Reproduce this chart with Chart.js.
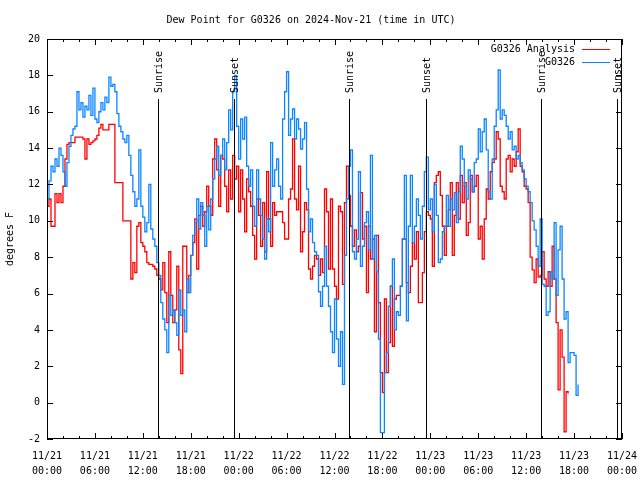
<!DOCTYPE html>
<html>
<head>
<meta charset="utf-8">
<script src="https://cdn.jsdelivr.net/npm/chart.js@4"></script>
<style>
  html, body { margin: 0; padding: 0; background: #fff; }
  canvas { display: block; }
</style>
</head>
<body>
<canvas id="dewChart" width="640" height="480"></canvas>
<script>
// hours since 11/21 00:00 UTC, both series sampled every 15 min
const sampleStep = 0.25

// G0326 Analysis (red), degrees F
const analysisDew = [
  10.8, 11.2, 9.7, 9.7, 11.5, 11.0, 11.5, 11.0, 11.9, 13.4, 14.2, 14.3, 14.3, 14.3, 14.6, 14.6, 14.6, 14.6, 14.5, 13.4, 14.5, 14.2, 14.3, 14.4, 14.5, 14.7, 15.1, 15.3, 15.0, 15.0, 15.0, 15.3, 15.3, 15.3, 12.1, 12.1, 12.1, 12.1, 10.0, 10.0, 10.0, 10.0,
  6.8, 7.7, 7.15, 9.7, 9.9, 8.8, 8.6, 8.3, 7.7, 7.6, 7.6, 7.5, 7.35, 7.0, 6.8, 6.2, 7.7, 6.05, 4.4, 8.3, 5.9, 4.4, 5.1, 7.5, 2.9, 1.6, 8.6, 8.6, 6.05, 7.0, 8.1, 8.8, 10.1, 7.35, 10.3, 10.8, 9.7, 10.5,
  11.9, 10.8, 10.3, 13.4, 14.5, 12.8, 10.8, 13.6, 13.4, 11.9, 10.5, 12.8, 11.2, 13.6, 12.3, 13.0, 10.5, 12.8, 11.2, 9.4, 12.3, 11.6, 10.8, 9.2, 7.9, 11.2, 10.3, 8.6, 11.0, 8.3, 12.7, 10.1, 8.6, 11.0, 10.3, 10.5, 10.5, 10.5, 9.9, 9.0, 9.0, 11.2,
  11.75, 14.5, 11.2, 10.6, 13.0, 8.3, 9.4, 11.0, 10.6, 7.35, 6.8, 7.5, 8.1, 7.9, 7.0, 7.9, 7.15, 11.75, 10.5, 7.35, 11.2, 7.35, 6.4, 5.7, 10.8, 10.5, 6.5, 11.0, 13.0, 11.4, 9.7, 8.6, 9.5, 8.3, 8.6, 11.55, 9.0, 9.7, 6.05, 9.7, 7.9, 9.0, 3.9, 9.2, 5.5,
  1.65, 0.55, 5.7, 1.65, 3.3, 6.4, 3.1, 5.7, 5.9, 5.9, 6.4, 9.0, 9.0, 6.6, 6.05, 7.5, 8.8, 7.9, 9.4, 5.5, 5.5, 7.15, 9.4, 10.5, 10.3, 10.1, 7.5, 12.1, 12.5, 12.7, 11.4, 9.7, 8.1, 9.7, 10.6, 12.1, 8.1, 10.3,
  12.1, 10.1, 12.5, 11.0, 12.1, 9.2, 9.9, 12.5, 11.6, 11.9, 12.5, 9.0, 9.7, 7.9, 10.1, 11.75, 11.2, 12.7, 13.2, 13.4, 14.9, 14.5, 11.9, 11.6, 11.2, 13.4, 13.6, 12.7, 13.4, 13.0, 13.8, 15.05, 13.0, 12.7, 11.9, 11.75, 11.0,
  8.0, 7.3, 6.6, 7.9, 6.9, 7.0, 8.3, 6.8, 6.4, 7.2, 6.4, 8.6, 6.8, 4.4, 0.7, 4.0, 2.5, -1.6, 0.6, 0.5
]

// G0326 station obs (blue), degrees F
const stationDew = [
  11.2, 12.2, 13.0, 12.7, 13.4, 13.0, 14.0, 13.6, 12.7, 11.9, 13.2, 14.1, 14.7, 15.05, 15.2, 17.1, 16.1, 16.5, 15.7, 16.3, 16.1, 16.9, 15.8, 17.3, 15.6, 15.4, 16.0, 16.5, 16.1, 16.8, 16.5, 17.9, 17.4, 17.5, 17.1, 15.9, 15.2, 14.9, 14.5, 14.3, 14.7, 13.6, 12.5, 11.6, 10.8,
  11.2, 13.9, 10.8, 10.2, 9.4, 9.9, 12.0, 9.55, 9.0, 8.6, 7.7, 7.0, 5.5, 4.6, 4.0, 2.75, 5.9, 4.8, 5.1, 4.4, 3.7, 6.2, 4.8, 5.1, 3.9, 6.8, 6.05, 8.1, 9.2, 9.9, 11.2, 9.55, 11.0, 10.3, 8.6,
  10.8, 9.5, 11.2, 12.3, 13.4, 14.1, 12.5, 13.6, 14.5, 12.8, 14.3, 16.1, 15.0, 17.1, 18.0, 15.2, 13.4, 15.6, 14.5, 15.7, 13.0, 11.9, 12.8, 10.8, 9.7, 12.8, 11.2, 10.3, 9.0, 7.9, 10.1, 9.4, 14.3, 11.9, 12.8, 13.4, 11.9, 11.2, 15.6, 17.1, 18.2,
  14.7, 15.6, 16.15, 14.5, 15.6, 15.05, 13.95, 14.5, 15.4, 11.75, 9.4, 10.1, 8.8, 8.3, 8.1, 6.1, 5.3, 6.4, 8.6, 6.4, 5.3, 3.9, 2.75, 5.7, 3.5, 2.0, 3.9, 1.0, 8.1, 11.2, 13.0, 13.9, 8.3, 7.9, 9.0, 12.7, 7.5, 8.6, 9.9, 10.5, 8.4, 13.6, 7.9, 9.2, 7.2, 3.5,
  -1.65, -1.65, 1.65, 2.75, 5.3, 6.4, 7.9, 4.0, 5.0, 4.8, 6.4, 9.0, 12.5, 4.5, 9.7, 12.5, 8.8, 9.7, 11.2, 10.3, 9.0, 10.8, 12.7, 13.5, 10.6, 11.2, 9.4, 12.0, 10.3, 7.7, 7.9, 9.4, 9.7, 11.4, 9.7, 11.2, 10.6, 11.55,
  9.9, 11.6, 14.1, 13.4, 11.9, 11.2, 12.8, 12.3, 11.6, 13.2, 13.4, 15.05, 13.8, 14.9, 15.6, 13.9, 11.6, 11.2, 13.4, 15.2, 16.1, 18.3, 15.6, 16.1, 15.8, 15.2, 14.5, 14.9, 13.9, 14.1, 13.4, 13.6, 13.2, 12.8, 12.3, 11.9, 11.6,
  11.0, 10.0, 9.5, 8.6, 7.5, 10.1, 6.5, 6.4, 4.8, 5.0, 7.2, 6.8, 9.9, 5.9, 8.4, 9.7, 6.8, 4.6, 5.0, 2.2, 2.75, 2.75, 2.6, 0.4, 1.0
]

// sun events, hours since 11/21 00:00
const sunHours = [13.92, 23.42, 37.8, 47.46, 61.83, 71.4]
const sunNames = ['Sunrise', 'Sunset', 'Sunrise', 'Sunset', 'Sunrise', 'Sunset']

// x tick labels every 6 hours
const tickDays = ['11/21', '11/21', '11/21', '11/21', '11/22', '11/22', '11/22', '11/22', '11/23', '11/23', '11/23', '11/23', '11/24']
const tickTimes = ['00:00', '06:00', '12:00', '18:00', '00:00', '06:00', '12:00', '18:00', '00:00', '06:00', '12:00', '18:00', '00:00']

const mono = "'DejaVu Sans Mono', 'Liberation Mono', monospace"

function toPoints(values) {
  return values.map((v, i) => ({x: i * sampleStep, y: v}))
}

// border, inward tics, sun markers and the gnuplot-style key
const gnuplotBits = {
  id: 'gnuplotBits',
  afterDatasetsDraw(chart) {
    const ctx = chart.ctx
    const a = chart.chartArea
    const x = chart.scales.x
    const y = chart.scales.y
    ctx.save()
    ctx.strokeStyle = '#000'
    ctx.fillStyle = '#000'
    ctx.lineWidth = 1
    ctx.font = '10px ' + mono

    sunHours.forEach((h, i) => {
      var px = Math.round(x.getPixelForValue(h)) + 0.5
      ctx.beginPath()
      ctx.moveTo(px, a.top + 60)
      ctx.lineTo(px, a.bottom)
      ctx.stroke()
      ctx.save()
      ctx.translate(px + 1, a.top + 54)
      ctx.rotate(-Math.PI / 2)
      ctx.textAlign = 'left'
      ctx.textBaseline = 'middle'
      ctx.fillText(sunNames[i], 0, 0)
      ctx.restore()
    })

    ctx.strokeRect(a.left + 0.5, a.top + 0.5, a.width - 1, a.height - 1)

    ctx.beginPath()
    x.ticks.forEach(t => {
      var px = Math.round(x.getPixelForValue(t.value)) + 0.5
      var len = t.value % 6 === 0 ? 6 : 3
      ctx.moveTo(px, a.bottom); ctx.lineTo(px, a.bottom - len)
      ctx.moveTo(px, a.top); ctx.lineTo(px, a.top + len)
    })
    y.ticks.forEach(t => {
      var py = Math.round(y.getPixelForValue(t.value)) + 0.5
      ctx.moveTo(a.left, py); ctx.lineTo(a.left + 6, py)
      ctx.moveTo(a.right, py); ctx.lineTo(a.right - 6, py)
    })
    ctx.stroke()

    chart.data.datasets.forEach((ds, i) => {
      var ly = a.top + 10.5 + i * 13
      ctx.fillStyle = '#000'
      ctx.textAlign = 'right'
      ctx.textBaseline = 'middle'
      ctx.fillText(ds.label, a.right - 47, ly)
      ctx.strokeStyle = ds.borderColor
      ctx.beginPath()
      ctx.moveTo(a.right - 40, ly)
      ctx.lineTo(a.right - 12, ly)
      ctx.stroke()
    })
    ctx.restore()
  }
}

Chart.defaults.font.family = mono
Chart.defaults.font.size = 10
Chart.defaults.color = '#000'

var config = {
  type: 'line',
  data: {
    datasets: [
      {
        label: 'G0326 Analysis',
        data: toPoints(analysisDew),
        borderColor: '#ff0000',
        borderWidth: 1.3,
        stepped: true,
        pointRadius: 0,
        order: 1
      },
      {
        label: 'G0326',
        data: toPoints(stationDew),
        borderColor: '#0a86ff',
        borderWidth: 1.3,
        stepped: true,
        pointRadius: 0,
        order: 0
      }
    ]
  },
  options: {
    responsive: false,
    animation: false,
    layout: {
      padding: {top: 0, right: 18, bottom: 0, left: 0}
    },
    plugins: {
      legend: {display: false},
      tooltip: {enabled: false},
      title: {
        display: true,
        text: 'Dew Point for G0326 on 2024-Nov-21 (time in UTC)',
        font: {family: mono, size: 10, weight: 'normal', lineHeight: 1.2},
        color: '#000',
        padding: {top: 14, bottom: 13}
      }
    },
    scales: {
      x: {
        type: 'linear',
        min: 0,
        max: 72,
        border: {display: false},
        grid: {display: false, drawTicks: false},
        ticks: {
          stepSize: 2,
          autoSkip: false,
          maxRotation: 0,
          padding: 10,
          font: {family: mono, size: 10, lineHeight: 1.5},
          callback: value => value % 6 === 0 ? [tickDays[value / 6], tickTimes[value / 6]] : ''
        },
        afterFit: scale => {
          scale.height = 41
          // end labels may hang past the frame, like gnuplot
          scale.paddingLeft = 0
          scale.paddingRight = 0
        }
      },
      y: {
        min: -2,
        max: 20,
        border: {display: false},
        grid: {display: false, drawTicks: false},
        ticks: {stepSize: 2, padding: 7, font: {family: mono, size: 10}},
        title: {
          display: true,
          text: 'degrees F',
          font: {family: mono, size: 10},
          padding: {top: 4, bottom: 0}
        },
        afterFit: scale => { scale.width = 47 }
      }
    }
  },
  plugins: [gnuplotBits]
}

var dewChart = new Chart(document.getElementById('dewChart'), config)
</script>
</body>
</html>
